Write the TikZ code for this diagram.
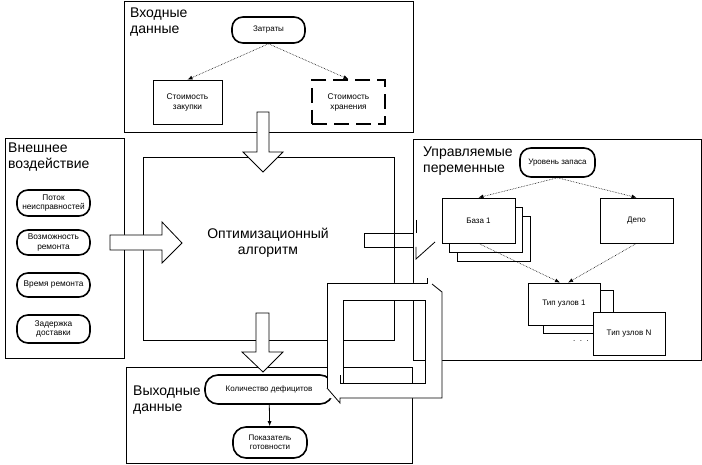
\documentclass[tikz,border=0pt]{standalone}
\usepackage{fontspec}
\setmainfont{Liberation Sans}
\usetikzlibrary{arrows.meta}
\begin{document}
\begin{tikzpicture}[x=1pt,y=-1pt,
  frame/.style={draw,line width=0.8pt},
  title/.style={anchor=north west,inner sep=0pt,align=left,font=\fontsize{14}{15.5}\selectfont},
  pill/.style={draw,line width=1.6pt,rounded corners=11pt,fill=white,inner sep=1pt,align=center,font=\fontsize{8}{9.5}\selectfont},
  boxn/.style={draw,line width=0.8pt,fill=white,inner sep=1pt,align=center,font=\fontsize{8}{9.5}\selectfont},
  dotarrow/.style={densely dotted,line width=0.6pt,-{Latex[length=5pt,width=4pt]}},
  solidarrow/.style={line width=0.8pt,-{Latex[length=5pt,width=4pt]}},
  bigarrow/.style={draw,fill=white,line width=0.8pt},
  thinline/.style={line width=0.8pt},
]
\useasboundingbox (0,0) rectangle (702,465);

% ---------- frames ----------
\draw[frame] (124,1) rectangle (413,132);
\draw[frame] (5,138) rectangle (124,358);
\draw[frame] (143,157) rectangle (394,340);
\draw[frame] (413,139) rectangle (701,360);
\draw[frame] (126,367) rectangle (412,463);

% ---------- titles ----------
\node[title] (tin) at (130,8) {Входные\\данные};
\node[title] (text) at (8,143) {Внешнее\\воздействие};
\node[title] (tctl) at (423,147) {Управляемые\\переменные};
\node[title] (tout) at (133,386) {Выходные\\данные};
\node[inner sep=0pt,align=center,font=\fontsize{14}{16}\selectfont] (algo) at (268,243) {Оптимизационный\\алгоритм};

% ---------- input block ----------
\node[pill,minimum width=73pt,minimum height=26pt] (zatr) at (268.5,30) {Затраты};
\node[boxn,minimum width=69pt,minimum height=44pt,font=\fontsize{8.3}{10}\selectfont] (zak) at (187.5,102) {Стоимость\\закупки};
\node[boxn,line width=1.6pt,dash pattern=on 15pt off 7pt,minimum width=73pt,minimum height=44pt,font=\fontsize{8.3}{10}\selectfont] (hran) at (348.5,102) {Стоимость\\хранения};
\draw[dotarrow] (zatr.south) -- (zak.north);
\draw[dotarrow] (zatr.south) -- (hran.north);

% ---------- external block ----------
\node[pill,minimum width=73pt,minimum height=26pt,font=\fontsize{8.3}{9.5}\selectfont] (potok) at (53.5,203) {Поток\\неисправностей};
\node[pill,minimum width=73pt,minimum height=25pt,font=\fontsize{8.3}{9.5}\selectfont] (vozm) at (53.5,242.5) {Возможность\\ремонта};
\node[pill,minimum width=73pt,minimum height=24pt,font=\fontsize{8.3}{9.5}\selectfont] (vrem) at (53.5,285) {Время ремонта};
\node[pill,minimum width=73pt,minimum height=28pt,font=\fontsize{8.3}{9.5}\selectfont] (zad) at (53.5,329) {Задержка\\доставки};

% ---------- controlled block ----------
\node[pill,minimum width=75pt,minimum height=29pt] (urov) at (557.5,162.5) {Уровень запаса};
\node[boxn,minimum width=73pt,minimum height=45pt] (bazaC) at (493.5,238.5) {};
\node[boxn,minimum width=73pt,minimum height=45pt] (bazaB) at (485.5,229.5) {};
\node[boxn,minimum width=73pt,minimum height=45pt] (baza) at (478.5,220.5) {База 1};
\node[boxn,minimum width=73pt,minimum height=45pt] (depo) at (636.5,220.5) {Депо};
\node[boxn,minimum width=70pt,minimum height=43pt] (tipB) at (578,311.5) {};
\node[boxn,minimum width=72pt,minimum height=42pt] (tip1) at (564,304) {Тип узлов 1};
\node[boxn,minimum width=72pt,minimum height=43pt] (tipN) at (629,333.5) {Тип узлов N};
\node[inner sep=0pt,font=\fontsize{8}{9}\selectfont] (dots) at (581,341) {.\ \ .\ \ .};
\draw[dotarrow] (urov.south) -- (baza.north);
\draw[dotarrow] (urov.south) -- (depo.north);
\draw[dotarrow] (baza.south) -- ([xshift=-4pt]tip1.north);
\draw[dotarrow] (depo.south) -- ([xshift=4pt]tip1.north);

% ---------- output block ----------
\node[pill,minimum width=128pt,minimum height=29pt,rounded corners=13pt] (kol) at (269,389.5) {Количество дефицитов};
\node[pill,minimum width=74pt,minimum height=31pt,rounded corners=13pt] (pok) at (270,442.5) {Показатель\\готовности};
\draw[solidarrow] (kol) -- (pok);

% ---------- block arrows ----------
\draw[bigarrow] (110,235) -- (162,235) -- (162,222) -- (182,243) -- (162,263) -- (162,250) -- (110,250) -- cycle;
\draw[bigarrow] (257,112) -- (269,112) -- (269,152) -- (283,152) -- (263,172) -- (243,152) -- (257,152) -- cycle;
\draw[bigarrow] (256,313) -- (269,313) -- (269,352) -- (283,352) -- (263,372) -- (242,352) -- (256,352) -- cycle;
% arrow to controlled variables (outline only)
\draw[thinline] (413,233) -- (364,233) -- (364,247) -- (413,247);
\draw[thinline] (416,220) -- (416,233);
\draw[thinline] (416,247) -- (416,259) -- (435,242);

% ---------- feedback loop shape ----------
\fill[white,even odd rule] (327,283) rectangle (442,398) (343,300) rectangle (425,383);
\draw[thinline] (327,388) -- (327,283) -- (427,283) -- (427,278);
\draw[thinline] (432,284) -- (442,292) -- (442,398) -- (340,398) -- (340,403) -- (327,388);
\draw[thinline] (343,300) rectangle (425,383);
\draw[thinline] (340,375) -- (340,383) -- (343,383);
\end{tikzpicture}
\end{document}
